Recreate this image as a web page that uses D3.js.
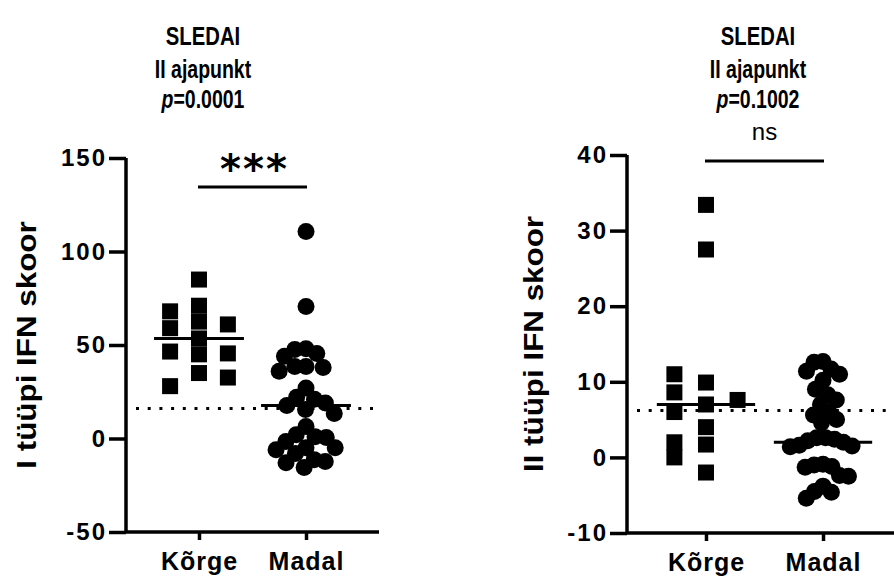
<!DOCTYPE html>
<html>
<head>
<meta charset="utf-8">
<script src="https://cdn.jsdelivr.net/npm/d3@7"></script>
<style>
  body { margin: 0; background: #fff; }
  svg { display: block; font-family: "Liberation Sans", Arial, sans-serif; }
</style>
</head>
<body>
<svg id="chart" width="894" height="584"></svg>
<script>
// group names on the x axis
const groups = ['Kõrge', 'Madal'];

// I tüüpi IFN skoor
const type1High = [85, 71, 62.5, 53.5, 45, 35, 68, 59, 61, 46.5, 45.5, 28, 32.6];
const type1Low = [110.7, 70.6, 48, 47.6, 45.5, 44, 38.5, 38.5, 38, 36, 27, 22, 21, 19, 17.6,
    15.5, 13.4, 6.4, 2, 1, 0.5, -1.6, -5, -5, -6, -8, -11.3, -12.3, -13, -15.5];
const type1Medians = [53.5, 17.6];
const type1Cutoff = 16;
const type1Ticks = [-50, 0, 50, 100, 150];

// II tüüpi IFN skoor
const type2High = [33.4, 27.5, 9.9, 7.0, 4.0, 1.7, 11, 8.6, 7.6, 6.0, 2.0, 0, -2];
const type2Low = [12.7, 12.6, 11.7, 11.4, 11.0, 10.2, 9.0, 8.3, 7.6, 7.0, 6.0, 5.6, 5.0, 4.6,
    2.6, 2.6, 2.4, 2.2, 2.0, 1.6, 1.5, 1.4, -0.9, -1.0, -1.2, -1.3, -2.4, -2.5, -3.8, -4.5, -4.6, -5.4];
const type2Medians = [7.0, 2.0];
const type2Cutoff = 6.2;
const type2Ticks = [-10, 0, 10, 20, 30, 40];

const svg = d3.select('#chart');

// squares go into lanes next to each other
function laneLayout(values, y, size, step) {
    const placed = [];
    values.forEach(v => {
        const py = y(v);
        let k = 0;
        for (let i = 0; i < 20; i++) {
            k = i === 0 ? 0 : (i % 2 ? -Math.ceil(i / 2) : Math.ceil(i / 2));
            const hit = placed.some(p => p.k === k && Math.abs(p.y - py) < size - 2);
            if (!hit) break;
        }
        placed.push({ v, y: py, k, dx: k * step });
    });
    return placed;
}

// circles packed as a swarm, then squeezed to a max half width
function swarmLayout(values, y, d, maxW) {
    const placed = [];
    values.forEach(v => {
        const py = y(v);
        const cands = [0];
        placed.forEach(p => {
            const dy = Math.abs(p.y - py);
            if (dy < d) {
                const off = Math.sqrt(d * d - dy * dy);
                cands.push(p.dx + off, p.dx - off);
            }
        });
        cands.sort((a, b) => Math.abs(a) - Math.abs(b) || a - b);
        const dx = cands.find(c => placed.every(p => Math.hypot(p.dx - c, p.y - py) >= d - 0.01));
        placed.push({ v, y: py, dx });
    });
    const m = d3.max(placed, p => Math.abs(p.dx)) || 1;
    const k = Math.min(1, maxW / m);
    placed.forEach(p => { p.dx *= k; });
    return placed;
}

function drawPanel(opt) {
    const g = svg.append('g');
    const x = d3.scalePoint().domain(groups).range([opt.left, opt.right]).padding(opt.pad);
    const y = d3.scaleLinear().domain(d3.extent(opt.ticks)).range([opt.bottom, opt.top]);
    const step = x.step();

    // dotted cut-off line
    g.append('line')
        .attr('x1', opt.left + 10).attr('x2', opt.right)
        .attr('y1', y(opt.cutoff)).attr('y2', y(opt.cutoff))
        .attr('stroke', '#000').attr('stroke-width', 3)
        .attr('stroke-dasharray', '3 8.7');

    // y axis
    const yAxis = d3.axisLeft(y).tickValues(opt.ticks).tickFormat(d => String(d))
        .tickSize(17).tickPadding(2);
    const ya = g.append('g').attr('transform', `translate(${opt.left},0)`).call(yAxis);
    ya.select('.domain').attr('d', `M0,${opt.top}V${opt.bottom}`).attr('stroke-width', 3.5);
    ya.selectAll('.tick line').attr('stroke-width', 3.5);
    ya.selectAll('.tick text').attr('font-size', 24).attr('font-weight', 'bold')
        .attr('letter-spacing', 2)
        .attr('font-family', '"Liberation Sans", Arial, sans-serif').attr('fill', '#000');

    // x axis
    const xAxis = d3.axisBottom(x).tickSize(8).tickPadding(12);
    const xa = g.append('g').attr('transform', `translate(0,${opt.bottom})`).call(xAxis);
    xa.select('.domain').attr('d', `M${opt.left},0H${opt.right}`).attr('stroke-width', 3.5);
    xa.selectAll('.tick line').attr('stroke-width', 3.5);
    xa.selectAll('.tick text').attr('font-size', 25).attr('font-weight', 'bold')
        .attr('letter-spacing', 1)
        .attr('font-family', '"Liberation Sans", Arial, sans-serif').attr('fill', '#000');

    // squares for Kõrge
    const sq = 16;
    const high = laneLayout(opt.high, y, sq, step * 0.27);
    g.selectAll('rect.pt').data(high).join('rect')
        .attr('class', 'pt')
        .attr('x', d => x(groups[0]) + d.dx - sq / 2)
        .attr('y', d => d.y - sq / 2)
        .attr('width', sq).attr('height', sq)
        .attr('fill', '#000');

    // circles for Madal
    const low = swarmLayout(opt.low, y, 17, step * 0.28);
    g.selectAll('circle.pt').data(low).join('circle')
        .attr('class', 'pt')
        .attr('cx', d => x(groups[1]) + d.dx)
        .attr('cy', d => d.y)
        .attr('r', 8.5)
        .attr('fill', '#000');

    // medians
    g.selectAll('line.med').data(opt.medians).join('line')
        .attr('class', 'med')
        .attr('x1', (d, i) => x(groups[i]) - step * 0.42)
        .attr('x2', (d, i) => x(groups[i]) + step * 0.42)
        .attr('y1', d => y(d)).attr('y2', d => y(d))
        .attr('stroke', '#000').attr('stroke-width', 3);

    // significance bar
    g.append('line')
        .attr('x1', x(groups[0]) - 1).attr('x2', x(groups[1]) + 1)
        .attr('y1', opt.barY).attr('y2', opt.barY)
        .attr('stroke', '#000').attr('stroke-width', 3);
    const mid = (x(groups[0]) + x(groups[1])) / 2;
    if (opt.sig === 'ns') {
        g.append('text').attr('x', mid).attr('y', opt.barY - 21)
            .attr('text-anchor', 'middle').attr('font-size', 24).text('ns');
    } else {
        g.append('text').attr('x', mid + 2).attr('y', opt.barY - 4)
            .attr('text-anchor', 'middle').attr('font-size', 40).attr('font-weight', 'bold')
            .attr('font-family', '"DejaVu Sans", sans-serif').attr('letter-spacing', 2)
            .text(opt.sig);
    }

    // titles, drawn a bit narrow like the original
    const t = g.append('g').attr('font-weight', 'bold').attr('text-anchor', 'middle');
    const line = (yy, size) => t.append('text')
        .attr('transform', `translate(${opt.titleX},${yy}) scale(0.78,1)`)
        .attr('font-size', size);
    line(45, 26).text('SLEDAI');
    line(78, 25).text('II ajapunkt');
    const p = line(108, 25);
    p.append('tspan').attr('font-style', 'italic').text('p');
    p.append('tspan').text('=' + opt.pText);

    // y axis title
    g.append('text')
        .attr('transform', `translate(${opt.labelX},${(opt.top + opt.bottom) / 2}) rotate(-90) scale(1.12,1)`)
        .attr('text-anchor', 'middle').attr('font-size', 28).attr('font-weight', 'bold')
        .text(opt.label);
}

drawPanel({
    left: 126, right: 379, top: 158, bottom: 532, pad: 0.682,
    ticks: type1Ticks, high: type1High, low: type1Low, medians: type1Medians,
    cutoff: type1Cutoff, barY: 187, sig: '***', titleX: 203, pText: '0.0001',
    label: 'I tüüpi IFN skoor', labelX: 36
});

drawPanel({
    left: 627, right: 902, top: 155, bottom: 533, pad: 0.675,
    ticks: type2Ticks, high: type2High, low: type2Low, medians: type2Medians,
    cutoff: type2Cutoff, barY: 161, sig: 'ns', titleX: 758, pText: '0.1002',
    label: 'II tüüpi IFN skoor', labelX: 543
});
</script>
</body>
</html>
